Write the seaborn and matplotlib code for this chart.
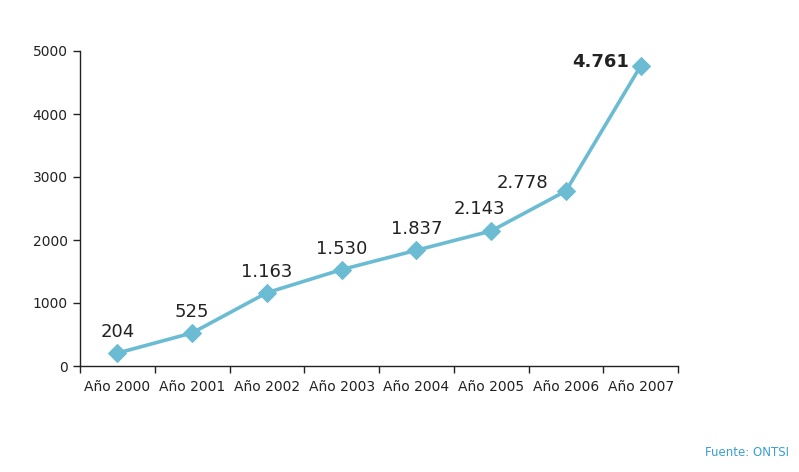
import numpy as np
import pandas as pd
import matplotlib
matplotlib.use('Agg')
import matplotlib.pyplot as plt
import seaborn as sns

# Datos
anios = ['Año 2000', 'Año 2001', 'Año 2002', 'Año 2003',
         'Año 2004', 'Año 2005', 'Año 2006', 'Año 2007']
valores = [204, 525, 1163, 1530, 1837, 2143, 2778, 4761]
etiquetas = ['204', '525', '1.163', '1.530', '1.837', '2.143', '2.778', '4.761']

# desplazamiento de cada etiqueta (en pixeles)
offsets = [(0, 21), (0, 21), (0, 21), (0, 21), (0, 21), (-12, 22), (-43, 8), (-40, 4)]

color_linea = '#6bbcd3'

sns.set_style('white')
plt.rcParams['font.family'] = ['DejaVu Sans']

df = pd.DataFrame({'anio': anios, 'valor': valores})

fig = plt.figure(figsize=(7.99, 4.72), dpi=100)
ax = fig.add_axes([80 / 799, 1 - 366 / 472, 598 / 799, 315 / 472])

sns.lineplot(data=df, x='anio', y='valor', ax=ax, color=color_linea,
             linewidth=2.6, marker='D', markersize=9, markeredgecolor=color_linea)

for i, (v, txt) in enumerate(zip(valores, etiquetas)):
    dx, dy = offsets[i]
    bold = i == len(valores) - 1
    ax.annotate(txt, (i, v), xytext=(dx * 0.72, dy * 0.72), textcoords='offset points',
                ha='center', va='center', fontsize=13,
                fontweight='bold' if bold else 'normal', color='#222222')

ax.set_xlim(-0.5, len(anios) - 0.5)
ax.set_ylim(0, 5000)
ax.set_yticks(np.arange(0, 5001, 1000))
ax.set_yticklabels([str(t) for t in range(0, 5001, 1000)], fontsize=10, color='#222222')

# ticks en los bordes de categoria, etiquetas en el centro
ax.set_xticks(np.arange(-0.5, len(anios), 1.0))
ax.set_xticklabels([])
ax.set_xticks(np.arange(len(anios)), minor=True)
ax.set_xticklabels(anios, minor=True, fontsize=10, color='#222222')
ax.tick_params(axis='x', which='minor', length=0, pad=10)
ax.tick_params(axis='x', which='major', length=5, width=1, color='#222222', direction='out')
ax.tick_params(axis='y', length=5, width=1, color='#222222', direction='out', pad=4)
ax.tick_params(bottom=True, left=True)

ax.set_xlabel('')
ax.set_ylabel('')
sns.despine(ax=ax)
for s in ['left', 'bottom']:
    ax.spines[s].set_color('#222222')
    ax.spines[s].set_linewidth(1)

fig.text(789 / 799, 1 - 452 / 472, 'Fuente: ONTSI', ha='right', va='center',
         fontsize=8.5, color='#3a9fcf')

fig.savefig('out.png', dpi=100)
